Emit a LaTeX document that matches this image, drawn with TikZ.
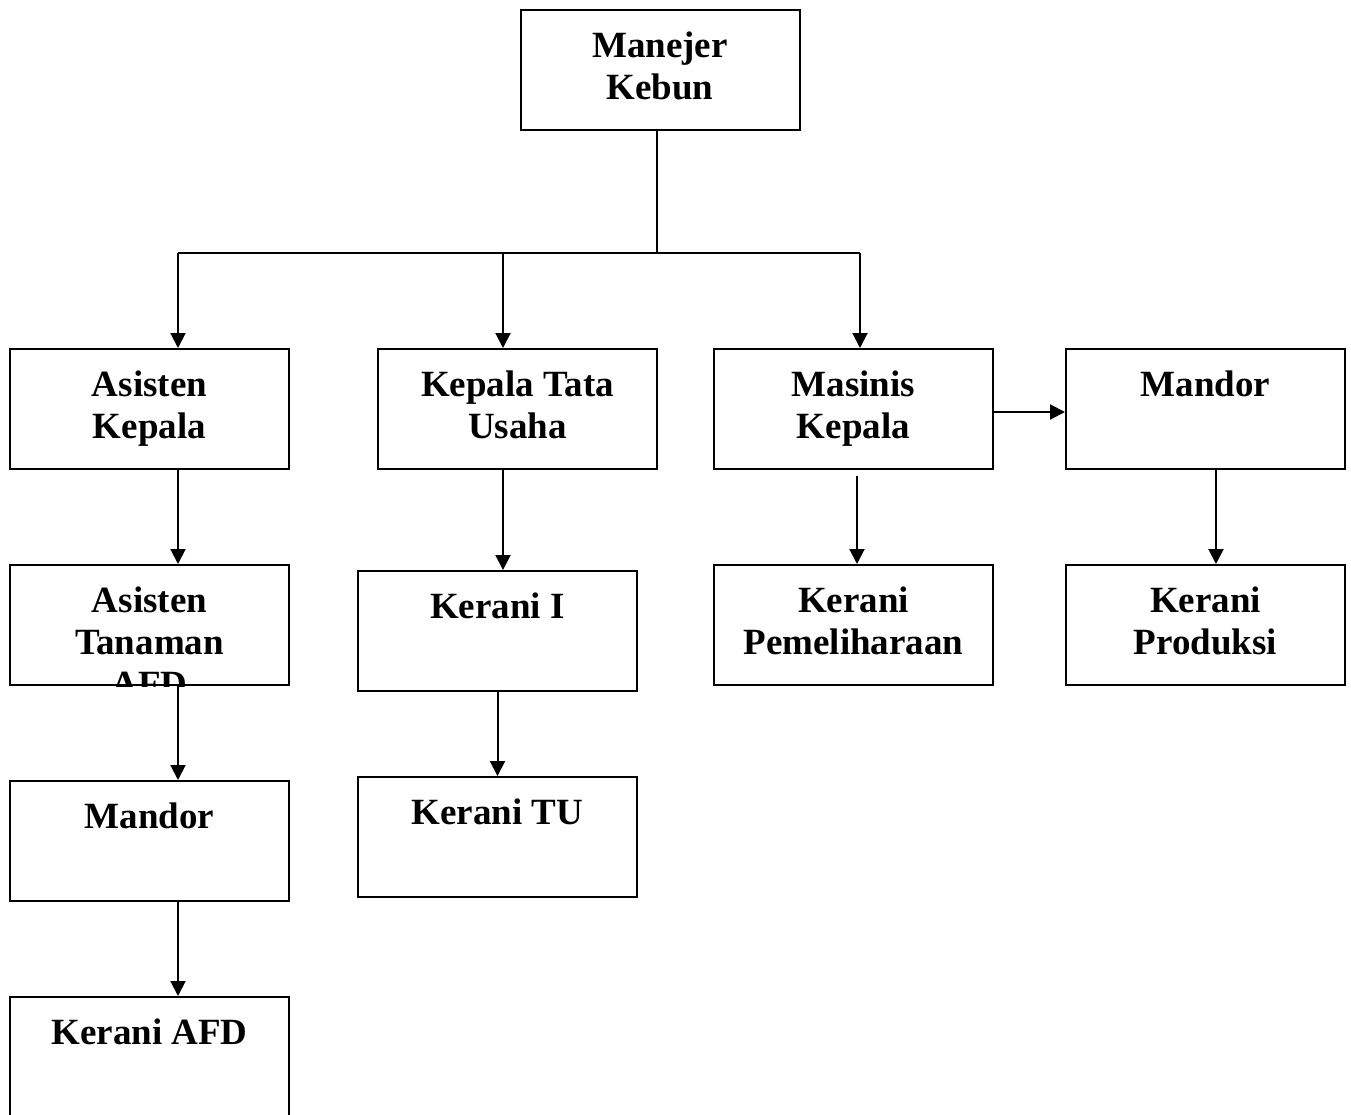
\documentclass[tikz,border=0pt]{standalone}
\usepackage{fontspec}
\setmainfont{Liberation Serif}
\usetikzlibrary{arrows.meta}
\begin{document}
\begin{tikzpicture}[x=0.5pt,y=-0.5pt,
 box/.style={draw,line width=1pt,minimum width=139.5pt,minimum height=60pt,inner sep=0pt},
 txt/.style={font=\bfseries\fontsize{18.5}{21}\selectfont,align=center,anchor=base,inner sep=0pt},
 arr/.style={line width=1pt,-{Triangle[length=7.5pt,width=7.5pt]}},
 ln/.style={line width=1pt}]
\useasboundingbox (0,0) rectangle (1351,1115);
\clip (0,0) rectangle (1351,1115);
% boxes
\node[box] (mk) at (660,70) {};
\node[box] (ak) at (149.5,409) {};
\node[box] (ktu) at (517.5,409) {};
\node[box] (mas) at (853.5,409) {};
\node[box] (mdr) at (1205.5,409) {};
\node[box] (at) at (149.5,625) {};
\node[box] (k1) at (497.5,631) {};
\node[box] (kp) at (853.5,625) {};
\node[box] (kpr) at (1205.5,625) {};
\node[box] (mdl) at (149.5,841) {};
\node[box] (ktu2) at (497.5,837) {};
\node[box] (kafd) at (149.5,1057) {};
% texts (base anchor = baseline of last line)
\node[txt] (tmk) at (660,99) {Manejer\\Kebun};
\node[txt] (tak) at (149.5,438) {Asisten\\Kepala};
\node[txt] (tktu) at (517.5,438) {Kepala Tata\\Usaha};
\node[txt] (tmas) at (853.5,438) {Masinis\\Kepala};
\node[txt] (tmdr) at (1205.5,396) {Mandor};
\node[txt] (tat) at (149.5,654) {Asisten\\Tanaman};
\begin{scope}
\clip (at.north west) rectangle (at.south east);
\node[txt] (tafd) at (149.5,696) {AFD};
\end{scope}
\node[txt] (tk1) at (497.5,618) {Kerani I};
\node[txt] (tkp) at (853.5,654) {Kerani\\Pemeliharaan};
\node[txt] (tkpr) at (1205.5,654) {Kerani\\Produksi};
\node[txt] (tmdl) at (149.5,828) {Mandor};
\node[txt] (tktu2) at (497.5,824) {Kerani TU};
\node[txt] (tkafd) at (149.5,1044) {Kerani AFD};
% connectors
\coordinate (top) at (657,253);
\coordinate (j1) at (178,253);
\coordinate (j2) at (503,253);
\coordinate (j3) at (860,253);
\draw[ln] ([xshift=-1.5pt]mk.south) -- (top);
\draw[ln] (j1) -- (j3);
\draw[arr] (j1) -- (j1 |- ak.north);
\draw[arr] (j2) -- (j2 |- ktu.north);
\draw[arr] (j3) -- (j3 |- mas.north);
\draw[arr] (ak.south -| j1) -- (at.north -| j1);
\draw[arr] (ktu.south -| j2) -- (k1.north -| j2);
\draw[arr] ([xshift=1.75pt,yshift=-3pt]mas.south) -- ([xshift=1.75pt]kp.north);
\draw[arr] ([yshift=-1.5pt]mas.east) -- ([yshift=-1.5pt]mdr.west);
\draw[arr] ([xshift=5.25pt]mdr.south) -- ([xshift=5.25pt]kpr.north);
\draw[arr] (at.south -| j1) -- (mdl.north -| j1);
\draw[arr] (k1.south) -- (ktu2.north);
\draw[arr] (mdl.south -| j1) -- (kafd.north -| j1);
\end{tikzpicture}
\end{document}
